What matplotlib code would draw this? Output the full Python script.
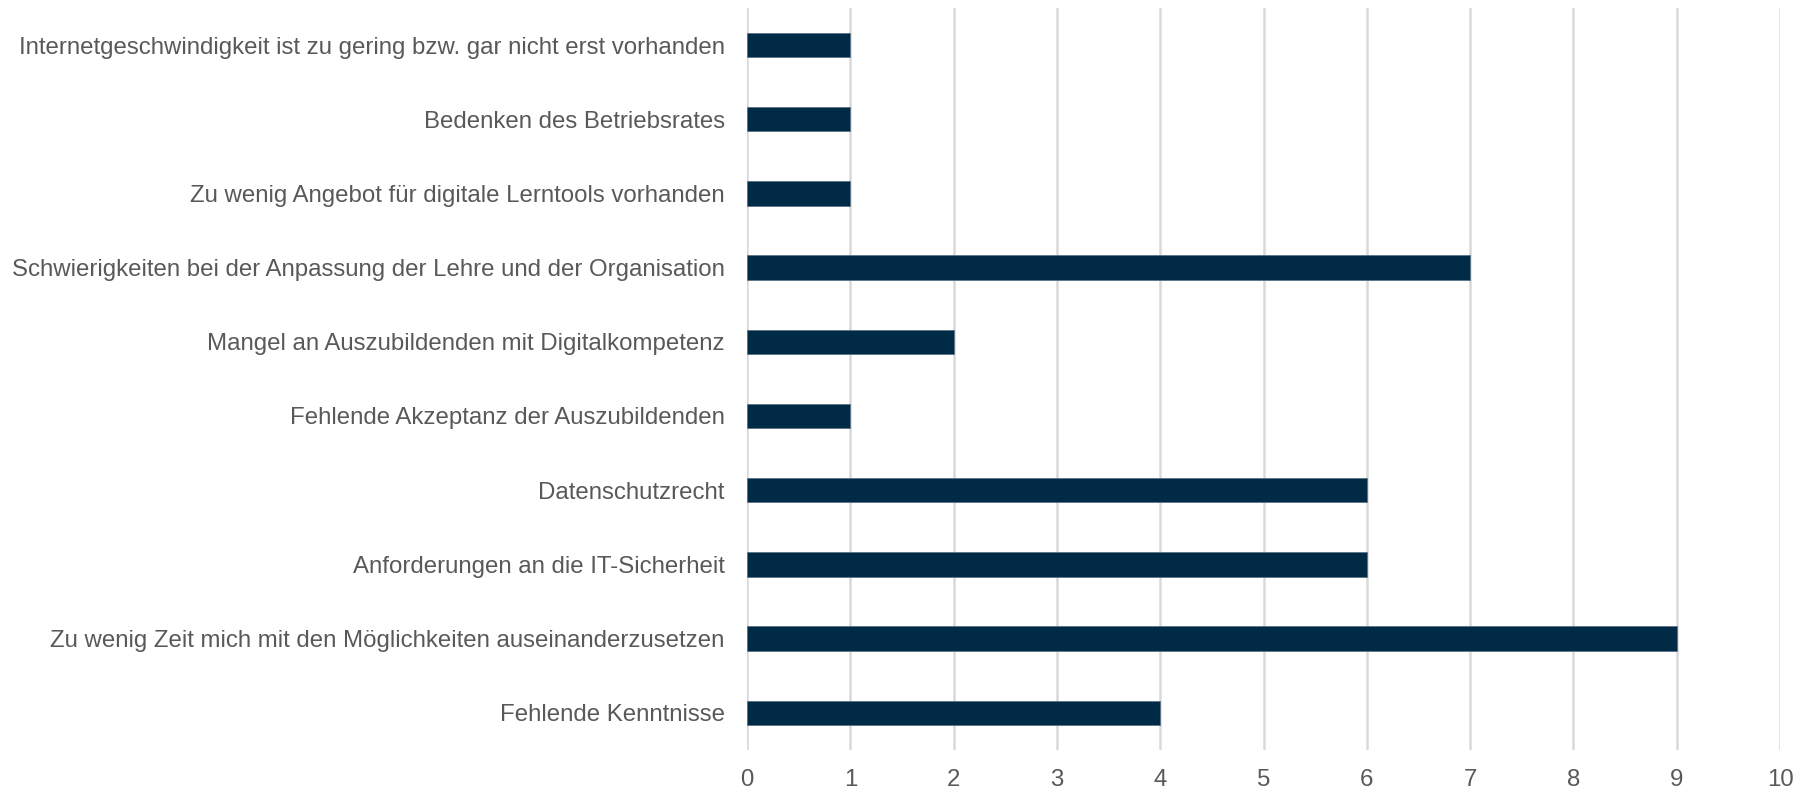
import matplotlib.pyplot as plt

labels = [
    "Fehlende Kenntnisse",
    "Zu wenig Zeit mich mit den Möglichkeiten auseinanderzusetzen",
    "Anforderungen an die IT-Sicherheit",
    "Datenschutzrecht",
    "Fehlende Akzeptanz der Auszubildenden",
    "Mangel an Auszubildenden mit Digitalkompetenz",
    "Schwierigkeiten bei der Anpassung der Lehre und der Organisation",
    "Zu wenig Angebot für digitale Lerntools vorhanden",
    "Bedenken des Betriebsrates",
    "Internetgeschwindigkeit ist zu gering bzw. gar nicht erst vorhanden",
]
values = [4, 9, 6, 6, 1, 2, 7, 1, 1, 1]
xticks = list(range(0, 11))

plt.rcParams['font.family'] = ['Liberation Sans', 'DejaVu Sans']

fig = plt.figure(figsize=(17.98, 7.91), dpi=100)
ax = fig.add_axes([0.4155, 0.052, 0.5745, 0.938])

ax.barh(range(len(labels)), values, height=0.33, color='#002a45',
        edgecolor='#5a7389', linewidth=0.6, zorder=3)

ax.set_xlim(0, 10)
ax.set_ylim(-0.5, len(labels) - 0.5)
ax.set_xticks(xticks)
ax.set_yticks(range(len(labels)))
ax.set_yticklabels(labels, fontsize=17.3, color='#595959')
ax.tick_params(axis='x', labelsize=17.3, colors='#595959', length=0, pad=14)
ax.tick_params(axis='y', length=0, pad=16)
ax.grid(axis='x', color='#d9d9d9', linewidth=1.8, zorder=0)
for s in ax.spines.values():
    s.set_visible(False)

fig.savefig('out.png', dpi=100)
